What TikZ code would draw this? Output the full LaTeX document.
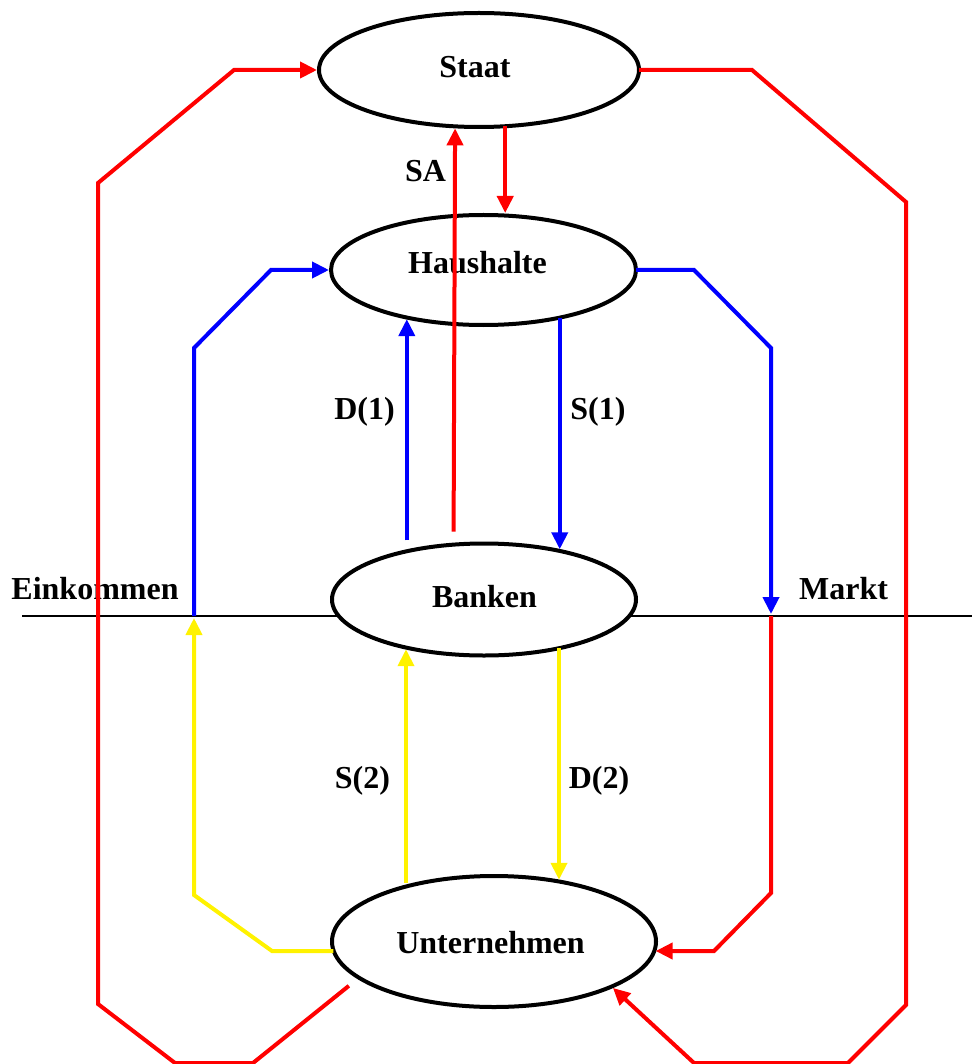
\documentclass[tikz,border=0pt]{standalone}
\usepackage{fontspec}
\setmainfont{Liberation Serif}
\usetikzlibrary{arrows.meta,shapes.geometric}
\begin{document}
\begin{tikzpicture}[x=1pt,y=-1pt,
  ell/.style={ellipse, draw=black, line width=4pt, fill=white, inner sep=0pt, outer sep=0pt},
  lbl/.style={font=\fontsize{32}{36}\selectfont\bfseries, anchor=base, inner sep=0pt},
  flow/.style={line width=4pt, line join=miter},
  tip/.style={-{Triangle[length=17pt,width=16pt]}, shorten >=2pt},
  rd/.style={flow, red},
  bl/.style={flow, blue},
  yl/.style={flow, yellow},
]
\useasboundingbox (0,0) rectangle (972,1064);
% dividing line
\draw[line width=2pt] (22,616) -- (972,616);
% ellipses
\node[ell, minimum width=320pt, minimum height=114pt] (staat) at (479,70) {};
\node[ell, minimum width=305pt, minimum height=110pt] (haus) at (483.5,270) {};
\node[ell, minimum width=304pt, minimum height=112pt] (bank) at (484,599.5) {};
\node[ell, minimum width=324pt, minimum height=131pt] (unt) at (494,941.5) {};
% texts
\node[lbl] (staat-t) at (475,78) {Staat};
\node[lbl] (haus-t) at (477.5,274) {Haushalte};
\node[lbl] (bank-t) at (484.5,607) {Banken};
\node[lbl] (unt-t) at (490.5,953) {Unternehmen};
\node[lbl] (sa) at (425.5,182) {SA};
\node[lbl] (d1) at (364.5,419) {D(1)};
\node[lbl] (s1) at (598,419) {S(1)};
\node[lbl] (s2) at (362.5,788) {S(2)};
\node[lbl] (d2) at (599,788) {D(2)};
\node[lbl] (eink) at (95,599) {Einkommen};
\node[lbl] (markt) at (843.5,599) {Markt};
% free ends on the dividing line
\coordinate (ein) at (194,616);
\coordinate (mkt) at (771,616);
% bend points beside Unternehmen
\coordinate (ybend) at (272,951);
\coordinate (rbend) at (714,951);
% start points of the vertical connectors
\coordinate (sh) at (staat.295.7);
\coordinate (d1s) at ([yshift=11pt]bank.148.36);
\coordinate (s1s) at (haus.328.1);
\coordinate (s2s) at ([yshift=4pt]unt.148);
\coordinate (d2s) at (bank.327.5);
% outer red loops
\draw[rd, tip, shorten <=13pt] (unt.195.55) -- (253,1063) -- (175,1063) -- (98,1004) -- (98,183) -- (234,70) -- (staat.west);
\draw[rd, tip] (staat.east) -- (752,70) -- (906,202) -- (906,1005) -- (848,1063) -- (694,1063) -- (unt.339.6);
% Staat <-> Haushalte / Banken
\draw[rd, tip] (sh) -- (sh |- haus.north);
\draw[rd, tip] ([yshift=13pt]bank.119.5) -- (staat.247.8);
% Haushalte <-> Banken
\draw[bl, tip] (d1s) -- (d1s |- haus.211.45);
\draw[bl, tip] (s1s) -- (s1s |- bank.32.5);
% Banken <-> Unternehmen
\draw[yl, tip] (s2s) -- (s2s |- bank.211.64);
\draw[yl, tip] (d2s) -- (d2s |- unt.42.2);
% Einkommen side
\draw[yl, tip] (ybend -| unt.183.4) -- (ybend) -- (194,895) -- (ein);
\draw[bl, tip] (ein) -- (194,348) -- (271,270) -- (haus.west);
% Markt side
\draw[bl, tip] (haus.east) -- (694,270) -- (771,348) -- (mkt);
\draw[rd, tip] (mkt) -- (771,893) -- (rbend) -- (rbend -| unt.356.6);
\end{tikzpicture}
\end{document}
